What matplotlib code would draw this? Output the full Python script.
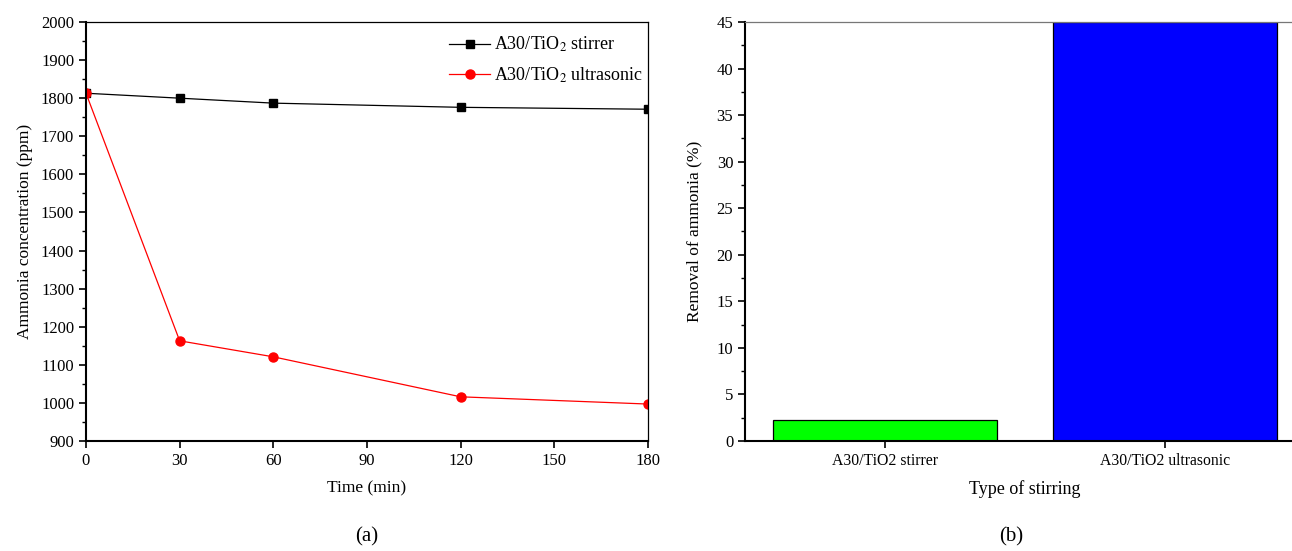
import matplotlib
matplotlib.use("Agg")
import matplotlib.pyplot as plt
from matplotlib.ticker import MultipleLocator

plt.rcParams['font.family'] = ['Liberation Serif', 'DejaVu Serif']
plt.rcParams['mathtext.fontset'] = 'stix'

time_min = [0, 30, 60, 120, 180]
stirrer = [1813, 1800, 1787, 1776, 1771]
ultrasonic = [1813, 1163, 1121, 1016, 997]

categories = ['A30/TiO2 stirrer', 'A30/TiO2 ultrasonic']
removal = [2.3, 45.0]
bar_colors = ['#00ff00', '#0000ff']

fig = plt.figure(figsize=(12.92, 5.51), dpi=100)

# (a)
ax1 = fig.add_axes([86/1292, 110/551, 562/1292, 419/551])
ax1.plot(time_min, stirrer, color='black', lw=0.9, marker='s', ms=6,
         label=r'A30/TiO$_2$ stirrer')
ax1.plot(time_min, ultrasonic, color='red', lw=0.9, marker='o', ms=6.5,
         label=r'A30/TiO$_2$ ultrasonic')
ax1.set_xlim(0, 180)
ax1.set_ylim(900, 2000)
ax1.set_xticks([0, 30, 60, 90, 120, 150, 180])
ax1.yaxis.set_major_locator(MultipleLocator(100))
ax1.yaxis.set_minor_locator(MultipleLocator(50))
ax1.set_xlabel('Time (min)', fontsize=12.5, labelpad=8)
ax1.set_ylabel('Ammonia concentration (ppm)', fontsize=12.5, labelpad=6)
ax1.legend(loc='upper right', bbox_to_anchor=(1.011, 0.995), frameon=False,
           fontsize=13, handlelength=2.3, handletextpad=0.2,
           borderaxespad=0.2, labelspacing=0.62)
ax1.text(0.5, -0.205, '(a)', transform=ax1.transAxes, ha='center', va='top', fontsize=15)

# (b)
ax2 = fig.add_axes([745/1292, 110/551, 560/1292, 419/551])
ax2.bar(range(len(categories)), removal, width=0.8, color=bar_colors,
        edgecolor='black', linewidth=0.9)
ax2.set_xlim(-0.5, 1.5)
ax2.set_ylim(0, 45)
ax2.set_xticks(range(len(categories)))
ax2.set_xticklabels(categories)
ax2.yaxis.set_major_locator(MultipleLocator(5))
ax2.yaxis.set_minor_locator(MultipleLocator(2.5))
ax2.set_xlabel('Type of stirring', fontsize=13, labelpad=8)
ax2.set_ylabel('Removal of ammonia (%)', fontsize=12.5, labelpad=10)
ax2.text(0.475, -0.205, '(b)', transform=ax2.transAxes, ha='center', va='top', fontsize=15)

for ax in (ax1, ax2):
    ax.spines['left'].set_linewidth(1.5)
    ax.spines['bottom'].set_linewidth(1.5)
    ax.spines['top'].set_linewidth(0.9)
    ax.spines['right'].set_linewidth(0.9)
    ax.tick_params(which='major', direction='out', length=5, width=1.2,
                   top=False, right=False, labelsize=12)
    ax.tick_params(which='minor', direction='out', length=3, width=1.0,
                   top=False, right=False)
ax2.spines['top'].set_color('#777777')
ax2.tick_params(axis='x', labelsize=11.3)
ax2.tick_params(axis='x', which='minor', bottom=False)
ax1.tick_params(axis='x', which='minor', bottom=False)

fig.savefig('out.png', dpi=100)
